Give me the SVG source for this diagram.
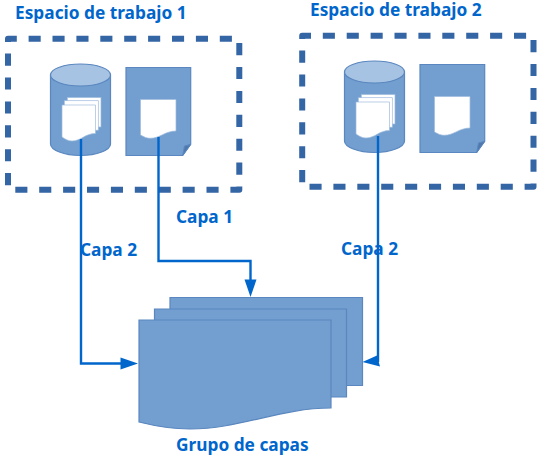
<svg xmlns="http://www.w3.org/2000/svg" width="545" height="460" viewBox="0 0 545 460">
  <style>
    .t { font-family: "Noto Sans", "Open Sans", sans-serif; font-weight: 700; font-size: 17.3px; fill: #0066cc; }
    .box { fill: none; stroke: #3465a4; stroke-width: 6; stroke-dasharray: 12.1 11.8; stroke-linejoin: round; }
    .blue { fill: #729fcf; stroke: #5a87bf; stroke-width: 1.2; }
    .lite { fill: #a6c3e3; stroke: #5a87bf; stroke-width: 1.2; }
    .paper { fill: #fff; stroke: #9dbbdd; stroke-width: .7; }
    .fold { fill: #4f79ad; stroke: #5a87bf; stroke-width: 1; }
    .c { fill: none; stroke: #0066cc; stroke-width: 2.4; }
    .h { fill: #0066cc; }
  </style>
  <defs>
    <path id="frame" class="box" d="M8 42V38.700H239.300V189.700H8Z"/>
    <g id="cyl">
      <path class="blue" d="M50.500 75V144C50.500 150 64 155.500 80.500 155.500S110.500 150 110.500 144V75Z"/>
      <ellipse class="lite" cx="80.500" cy="75" rx="30" ry="11"/>
      <rect class="paper" x="67.300" y="97.500" width="33.700" height="29.500"/>
      <rect class="paper" x="64.300" y="100.700" width="34" height="29.500"/>
      <path class="paper" d="M62 105H95.500V133.500C85 133.500 81 141 72 141C68 141 65 139 62 137Z"/>
    </g>
    <g id="doc">
      <path class="blue" d="M126 67.500H190.700V144.300L182.700 155.500H126Z"/>
      <path class="fold" d="M190.700 144.300L182.700 155.500L184.500 146Z"/>
      <path class="paper" d="M140.500 99.500H176V131C165 131 160 138.300 150 138.300C147 138.300 144 137 140.500 135Z"/>
    </g>
  </defs>

  <g id="espacio-1">
    <text class="t" x="15" y="19">Espacio de trabajo 1</text>
    <use href="#frame"/>
    <use href="#cyl"/>
    <use href="#doc"/>
  </g>

  <g id="espacio-2">
    <text class="t" x="310" y="15.500">Espacio de trabajo 2</text>
    <use href="#frame" x="294.200" y="-3"/>
    <use href="#cyl" x="294" y="-3"/>
    <use href="#doc" x="294" y="-3"/>
  </g>

  <g id="grupo">
    <path class="blue" d="M170 297.500H362.500V385.500H170Z"/>
    <path class="blue" d="M154.500 309H346.500V397H154.500Z"/>
    <path class="blue" d="M139 320H331V408C280 408 240 429 190 429C170 429 155 426 139 422Z"/>
    <text class="t" x="176" y="451">Grupo de capas</text>
  </g>

  <g id="connectors">
    <path class="c" d="M81 139V363.500H122"/>
    <path class="h" d="M120.500 357.500L138 363.500L120.500 369.500Z"/>
    <path class="c" d="M158.500 137V261H250.500V282"/>
    <path class="h" d="M244.500 279.500L250.500 297L256.500 279.500Z"/>
    <path class="c" d="M378 136V362"/>
    <path class="h" d="M377 355.500L362.500 362L380 366.500Z"/>
  </g>

  <text class="t" x="176" y="223">Capa 1</text>
  <text class="t" x="80" y="256">Capa 2</text>
  <text class="t" x="341" y="255">Capa 2</text>
</svg>
